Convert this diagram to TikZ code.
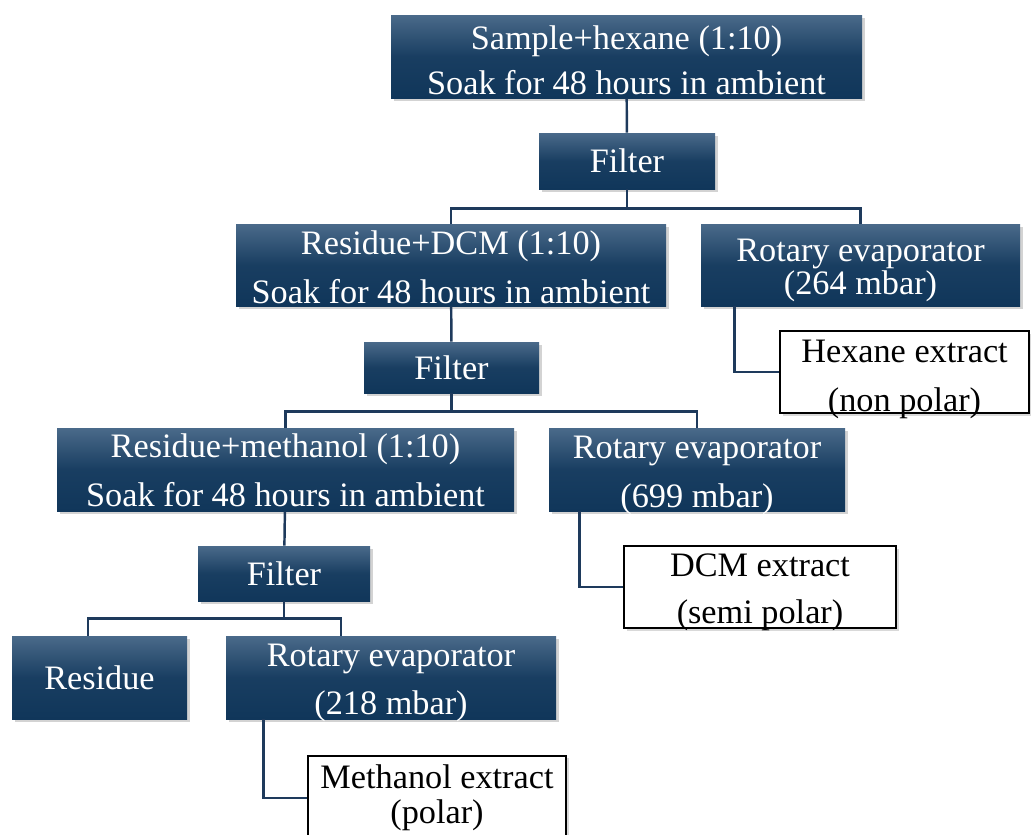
\documentclass[tikz,border=0pt]{standalone}
\usepackage{fontspec}
\setmainfont{Liberation Serif}
\usepackage{tikz}
\usetikzlibrary{positioning,calc,shadows}
\definecolor{boxTop}{HTML}{4A6A8A}
\definecolor{boxBot}{HTML}{10365A}
\definecolor{lineNavy}{HTML}{1E3A5C}

\tikzset{
  stage/.style={rectangle, top color=boxTop, bottom color=boxBot, middle color=boxBot!85!boxTop,
    text=white, align=center, inner sep=0pt,
    drop shadow={shadow xshift=0.05cm, shadow yshift=-0.05cm, opacity=0.35}},
  extract/.style={rectangle, draw=black, line width=0.9pt, fill=white, text=black, align=center, inner sep=0pt,
    drop shadow={shadow xshift=0.05cm, shadow yshift=-0.05cm, opacity=0.3}},
  link/.style={draw=lineNavy, line width=1.4pt}
}
% two centred lines, sunk by #1 without changing the box size
\newcommand{\sunk}[2]{\smash{\raisebox{-#1}{\begin{tabular}{@{}c@{}}#2\end{tabular}}}}

\begin{document}
\begin{tikzpicture}[font=\fontsize{19.5}{23.5}\selectfont]
\useasboundingbox (0,0) rectangle (20.62,-16.68);
\begin{scope}
\clip (0,0) rectangle (20.62,-16.68);
% hexane step
\node[stage, minimum width=9.42cm, minimum height=1.66cm] (soakhex) at (12.53,-1.13)
  {\sunk{9.4pt}{Sample+hexane (1:10)\\[2pt]Soak for 48 hours in ambient}};
\node[stage, minimum width=3.52cm, minimum height=1.12cm] (filthex) at (12.54,-3.22) {Filter};
% DCM step
\node[stage, minimum width=8.6cm, minimum height=1.64cm] (soakdcm) at (9.02,-5.3)
  {\sunk{8.5pt}{Residue+DCM (1:10)\\[4.5pt]Soak for 48 hours in ambient}};
\node[stage, minimum width=6.38cm, minimum height=1.64cm] (rothex) at (17.21,-5.3)
  {\sunk{7.8pt}{Rotary evaporator\\[-5pt](264 mbar)}};
\node[extract, minimum width=4.98cm, minimum height=1.64cm] (exthex) at (18.09,-7.44)
  {\sunk{8.8pt}{Hexane extract\\[4.5pt](non polar)}};
\node[stage, minimum width=3.5cm, minimum height=1.02cm] (filtdcm) at (9.03,-7.35) {Filter};
% methanol step
\node[stage, minimum width=9.14cm, minimum height=1.66cm] (soakmet) at (5.71,-9.39)
  {\sunk{7.8pt}{Residue+methanol (1:10)\\[4.5pt]Soak for 48 hours in ambient}};
\node[stage, minimum width=5.92cm, minimum height=1.66cm] (rotdcm) at (13.94,-9.39)
  {\sunk{8.1pt}{Rotary evaporator\\[4pt](699 mbar)}};
\node[extract, minimum width=5.44cm, minimum height=1.64cm] (extdcm) at (15.2,-11.74)
  {\sunk{7.8pt}{DCM extract\\[3pt](semi polar)}};
\node[stage, minimum width=3.44cm, minimum height=1.1cm] (filtmet) at (5.68,-11.47) {Filter};
% last split
\node[stage, minimum width=3.5cm, minimum height=1.66cm] (residue) at (1.99,-13.55) {Residue};
\node[stage, minimum width=6.6cm, minimum height=1.66cm] (rotmet) at (7.82,-13.55)
  {\sunk{8pt}{Rotary evaporator\\[4pt](218 mbar)}};
\node[extract, minimum width=5.16cm, minimum height=1.68cm, anchor=north] (extmet) at (8.74,-15.1)
  {Methanol extract\\[-4pt](polar)};

% connectors
\draw[link] (soakhex) -- (filthex);
\draw[link] (filthex.south) -- ++(0,-0.38) coordinate (splitA);
\draw[link] (soakdcm.north) |- (splitA) -| (rothex.north);
\draw[link] ([xshift=0.68cm]rothex.south west) |- (exthex.west);
\draw[link] (soakdcm) -- (filtdcm);
\draw[link] (filtdcm.south) -- ++(0,-0.36) coordinate (splitB);
\draw[link] (soakmet.north) |- (splitB) -| (rotdcm.north);
\draw[link] ([xshift=0.62cm]rotdcm.south west) |- (extdcm.west);
\draw[link] (soakmet) -- (filtmet);
\draw[link] (filtmet.south) -- ++(0,-0.34) coordinate (splitC);
\draw[link] ([xshift=-0.23cm]residue.north) |- (splitC) -| ([xshift=-1.0cm]rotmet.north);
\draw[link] ([xshift=0.76cm]rotmet.south west) |- (extmet.west);
\end{scope}
\end{tikzpicture}
\end{document}
